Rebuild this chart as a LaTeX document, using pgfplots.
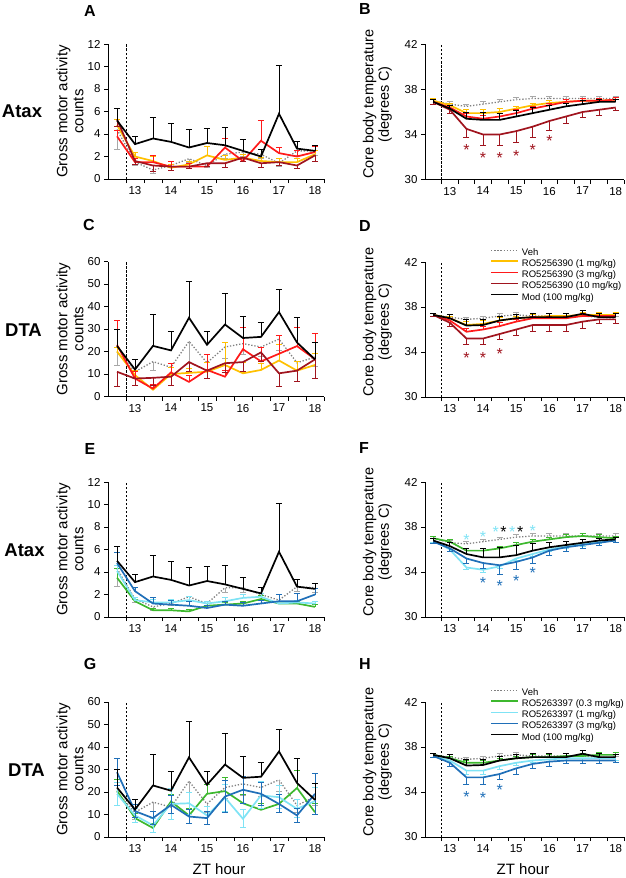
\documentclass[border=0pt]{standalone}
\usepackage{pgfplots}
\usepackage{pgfplotstable}
\pgfplotsset{compat=1.18}
\usepackage{fontspec}
\setmainfont{Liberation Sans}

\definecolor{cveh}{HTML}{808080}
\definecolor{cvehbar}{HTML}{A8A8A8}
\definecolor{cyel}{HTML}{FFC000}
\definecolor{cred}{HTML}{FF1A1A}
\definecolor{cdred}{HTML}{A0141E}
\definecolor{cgrn}{HTML}{3DB82E}
\definecolor{ccyan}{HTML}{7FE3F5}
\definecolor{cblue}{HTML}{1F6FB8}

% Panel A: Atax, RO5256390, activity
\pgfplotstableread{
x    veh vehe ya  yae yb  ybe yc  yce mod mode
12.5 4.4 1.8  4.8 0.5 3.8 0.5 5.3 0.6 5.2 1.1
13   1.5 0.3  2.0 0.4 1.5 0.3 1.6 0.3 3.1 0.7
13.5 0.8 0.3  1.6 0.4 1.5 0.6 1.2 0.5 3.6 1.9
14   1.2 0.2  1.0 0.3 1.1 0.5 1.1 0.3 3.3 1.6
14.5 1.8 0.3  1.3 0.3 1.1 0.3 1.1 0.2 2.8 1.6
15   1.2 0.2  2.1 0.8 1.1 0.3 1.4 0.3 3.2 1.3
15.5 2.2 0.4  1.7 0.4 2.8 0.8 1.4 0.4 3.0 1.6
16   2.4 0.4  1.9 0.3 1.6 0.3 1.9 0.3 2.5 1.0
16.5 2.2 0.4  1.6 0.3 3.4 1.8 1.4 0.4 2.0 0.6
17   1.4 0.3  1.5 0.3 2.3 0.5 1.5 0.3 5.8 4.3
17.5 2.5 0.4  1.5 0.3 2.0 0.5 1.2 0.3 2.7 0.6
18   2.5 0.4  2.2 0.3 2.4 0.5 2.1 0.5 2.5 0.5
}\tA
% Panel B: Atax, RO5256390, temperature
\pgfplotstableread{
x    veh  vehe ya   yae yb   ybe yc   yce mod  mode
12.5 37.0 0.2  37.0 0.2 36.9 0.2 36.9 0.2 36.9 0.2
13   36.7 0.2  36.6 0.2 36.4 0.2 36.2 0.3 36.3 0.3
13.5 36.5 0.2  35.9 0.3 35.6 0.3 34.5 0.8 35.4 0.6
14   36.7 0.2  35.9 0.3 35.4 0.3 34.0 1.0 35.3 0.7
14.5 36.9 0.2  36.0 0.3 35.6 0.3 34.0 1.0 35.3 0.6
15   37.1 0.2  36.3 0.2 35.9 0.3 34.3 1.0 35.6 0.5
15.5 37.2 0.2  36.6 0.2 36.3 0.2 34.7 1.0 35.9 0.5
16   37.2 0.2  36.8 0.2 36.6 0.2 35.2 0.8 36.2 0.4
16.5 37.2 0.2  36.9 0.2 36.9 0.2 35.6 0.6 36.5 0.3
17   37.2 0.2  37.0 0.2 37.0 0.2 36.0 0.5 36.7 0.3
17.5 37.2 0.2  37.0 0.2 37.0 0.2 36.2 0.5 36.9 0.2
18   37.2 0.2  37.1 0.2 37.1 0.2 36.4 0.3 36.9 0.2
}\tB
% Panel C: DTA, RO5256390, activity
\pgfplotstableread{
x    veh  vehe ya   yae yb   ybe  yc   yce mod  mode
12.5 20   6    20   2   23   11   11   6.5 22.5 7.5
13   11   3    9.5  2   8    3    8    3   12   4.5
13.5 15.5 4    3    1   3.5  2    8.3  3.5 22.5 14
14   13   3    10   3   10.7 4    8.8  4   20.5 8.5
14.5 24.5 12   10.5 2   6.5  3    15.3 4   35   16
15   15   4    11   4   11.8 7    11.5 3.5 23   6
15.5 22   5    14   10  8.8  3    14.8 4   32   14
16   23.5 5    10.3 5   21   9.5  15.3 4   26   9.5
16.5 22   4    11.8 3   15.6 6    19.6 4   26.5 6.5
17   25.5 5    16   7   19   8    10.3 6   37.5 10
17.5 15   3    11.5 4   22.4 8.5  11.5 5   24   11
18   17.5 4    14   5   16.6 11.5 16.5 8.5 16.5 7.5
}\tC
% Panel D: DTA, RO5256390, temperature
\pgfplotstableread{
x    veh  vehe ya   yae yb   ybe yc   yce mod   mode
12.5 37.3 0.1  37.3 0.1 37.3 0.1 37.3 0.1 37.3  0.1
13   37.1 0.2  37.0 0.2 36.8 0.2 36.6 0.3 37.0  0.3
13.5 36.9 0.2  36.4 0.3 35.8 0.3 35.2 0.5 36.35 0.5
14   37.0 0.2  36.5 0.3 36.0 0.3 35.2 0.5 36.4  0.5
14.5 37.2 0.2  36.8 0.3 36.3 0.3 35.6 0.5 36.8  0.4
15   37.3 0.2  37.0 0.2 36.7 0.2 36.0 0.5 37.0  0.3
15.5 37.2 0.2  37.1 0.2 37.0 0.2 36.4 0.6 37.1  0.3
16   37.2 0.2  37.2 0.2 37.0 0.2 36.4 0.6 37.1  0.3
16.5 37.2 0.2  37.2 0.2 37.0 0.2 36.4 0.6 37.1  0.3
17   37.2 0.2  37.3 0.2 37.2 0.2 36.7 0.6 37.4  0.3
17.5 37.1 0.2  37.3 0.2 37.2 0.2 36.9 0.4 37.1  0.3
18   37.0 0.2  37.3 0.2 37.2 0.2 36.9 0.4 37.1  0.3
}\tD
% Panel E: Atax, RO5263397, activity
\pgfplotstableread{
x    veh vehe ya  yae yb  ybe yc  yce mod mode
12.5 4.3 1.6  3.5 0.8 4.1 0.5 4.8 0.9 5.0 1.3
13   1.6 0.3  1.4 0.2 1.5 0.2 2.3 0.3 3.1 0.7
13.5 0.9 0.3  0.6 0.2 1.3 0.3 1.2 0.5 3.6 1.9
14   1.2 0.2  0.6 0.2 1.3 0.3 1.1 0.4 3.3 1.6
14.5 1.8 0.3  0.5 0.2 1.5 0.3 1.0 0.4 2.8 1.6
15   1.2 0.2  1.0 0.2 1.2 0.2 0.8 0.2 3.2 1.3
15.5 2.6 0.4  1.1 0.2 1.4 0.3 1.1 0.3 2.9 1.7
16   2.6 0.4  1.2 0.2 1.7 0.3 1.0 0.3 2.5 1.0
16.5 2.0 0.4  1.6 0.3 1.8 0.3 1.2 0.3 2.1 0.5
17   1.5 0.3  1.2 0.2 1.2 0.2 1.4 0.6 5.8 4.3
17.5 2.7 0.4  1.2 0.2 1.3 0.2 1.4 0.7 2.7 0.6
18   2.6 0.4  0.9 0.2 1.2 0.2 2.0 0.5 2.5 0.5
}\tE
% Panel F: Atax, RO5263397, temperature
\pgfplotstableread{
x    veh  vehe ya   yae yb   ybe yc   yce mod  mode
12.5 37.0 0.2  37.0 0.2 36.8 0.2 36.7 0.2 36.8 0.2
13   36.6 0.2  36.7 0.2 36.0 0.2 36.1 0.3 36.3 0.3
13.5 36.5 0.2  35.9 0.2 34.4 0.2 35.2 0.4 35.6 0.5
14   36.7 0.2  35.9 0.2 34.2 0.2 34.8 0.5 35.3 0.8
14.5 36.9 0.2  36.1 0.2 34.5 0.2 34.6 0.8 35.3 0.9
15   37.1 0.2  36.4 0.2 35.2 0.2 34.9 0.7 35.5 0.9
15.5 37.2 0.2  36.7 0.2 35.6 0.2 35.3 0.5 35.9 0.6
16   37.2 0.2  36.9 0.2 36.0 0.2 35.9 0.4 36.2 0.4
16.5 37.2 0.2  37.1 0.2 36.3 0.2 36.2 0.4 36.4 0.3
17   37.2 0.2  37.2 0.2 36.5 0.2 36.4 0.3 36.6 0.3
17.5 37.2 0.2  37.1 0.2 36.7 0.2 36.6 0.2 36.8 0.2
18   37.2 0.2  37.0 0.2 36.8 0.2 36.8 0.2 36.9 0.2
}\tF
% Panel G: DTA, RO5263397, activity
\pgfplotstableread{
x    veh  vehe ya   yae yb   ybe yc   yce mod  mode
12.5 20   6    20.6 5   19.2 5   28.8 6   22   8
13   11   3    8.4  2   9.6  3   11.5 3   12.2 4.5
13.5 15.5 4    4    2   5.2  3   8.4  3   22.9 14
14   13.3 3    15.8 3   14.7 7   14.3 4   20.6 8.5
14.5 24.8 12   9.6  3   15.0 5   9.1  3   35.4 16
15   14.7 4    19.2 4   9.6  4   8.4  3   23.2 6
15.5 22   5    20.4 6   17.5 6   18   7   32.2 14
16   23.6 5    15   4   8.1  4   21   6   26.3 9.5
16.5 22   4    12.1 3   18.5 6   19.2 5   26.8 6.5
17   25.4 5    14.7 4   17.7 5   14.7 4   38   10
17.5 14   3    21.8 8   12.5 4   9.6  3   24   11
18   18   4    11   4   16   6   19.2 9   16.5 7.5
}\tG
% Panel H: DTA, RO5263397, temperature
\pgfplotstableread{
x    veh  vehe ya   yae yb   ybe yc   yce mod   mode
12.5 37.3 0.1  37.3 0.1 37.2 0.1 37.2 0.1 37.3  0.1
13   37.1 0.2  37.0 0.2 36.8 0.2 36.6 0.3 37.0  0.3
13.5 36.9 0.2  36.6 0.2 35.9 0.3 35.3 0.6 36.35 0.5
14   37.0 0.2  36.6 0.2 35.9 0.3 35.3 0.6 36.4  0.5
14.5 37.2 0.2  36.8 0.2 36.3 0.3 35.6 0.5 36.8  0.4
15   37.3 0.2  37.0 0.2 36.6 0.2 36.1 0.5 37.0  0.3
15.5 37.2 0.2  37.1 0.2 36.8 0.2 36.5 0.4 37.1  0.3
16   37.2 0.2  37.1 0.2 36.9 0.2 36.7 0.4 37.1  0.3
16.5 37.2 0.2  37.2 0.2 37.0 0.2 36.8 0.3 37.1  0.3
17   37.2 0.2  37.2 0.2 37.0 0.2 36.8 0.3 37.4  0.3
17.5 37.1 0.2  37.3 0.2 37.0 0.2 36.8 0.3 37.1  0.3
18   37.0 0.2  37.3 0.2 37.0 0.2 36.8 0.2 37.1  0.2
}\tH

\pgfplotsset{
  panel/.style={scale only axis, axis lines*=left, enlargelimits=false, clip=false,
    xmin=12.25, xmax=18.25, height=135pt,
    xtick={13,14,15,16,17,18},
    every major x tick/.append style={draw=none},
    minor xtick={12.75,13.25,...,18.25}, minor tick length=4pt,
    tick align=outside, major tick length=4pt,
    tick style={black, line width=0.8pt},
    axis line style={black, line width=0.8pt},
    ticklabel style={font=\fontsize{11.5}{12}\selectfont},
    /pgf/number format/assume math mode=true,
    ylabel style={align=center, anchor=center}},
  actpanel/.style={panel, width=216pt, ymin=0,
    ylabel={Gross motor activity\\counts},
    ylabel style={at={(axis description cs:-0.176,0.5)}, font=\fontsize{15}{16}\selectfont}},
  tmppanel/.style={panel, width=199pt, ymin=30, ymax=42, ytick={30,34,38,42},
    ylabel={Core body temperature\\(degrees C)},
    ylabel style={at={(axis description cs:-0.239,0.556)}, font=\fontsize{14.5}{15.5}\selectfont}},
  ser/.style n args={3}{color=#1, line width=1.7pt, mark=none, forget plot,
    error bars/y dir=#2, error bars/y explicit,
    error bars/error bar style={line width=0.9pt, solid, color=#3},
    error bars/error mark options={rotate=90, mark size=3pt, line width=0.9pt, solid, color=#3}},
  vehs/.style={dash pattern=on 1.3pt off 1.8pt, line width=1.3pt},
  zt/.style={black, line width=0.8pt, dash pattern=on 2.5pt off 1.5pt, forget plot},
  stars/.style={only marks, mark=text, text mark={*}, text mark as node=true, forget plot,
    text mark style={font=\fontsize{16}{16}\selectfont, text=#1, inner sep=0pt, anchor=center, yshift=-3.5pt}},
  leg/.style={legend style={at={(axis description cs:0.327,1.104)}, anchor=north west,
      draw=none, fill=none, inner sep=0pt, font=\fontsize{9.5}{10}\selectfont,
      row sep=1.1pt, column sep=2.5pt,
      nodes={inner sep=0.5pt, text height=7pt, text depth=2pt}},
    legend cell align=left},
  limg/.style={legend image code/.code={\draw[#1] (0pt,3pt) -- (27pt,3pt);}},
}

\begin{document}
\begin{tikzpicture}
\path[use as bounding box] (0pt,0pt) rectangle (625pt,-878pt);

% ---------- A ----------
\begin{axis}[actpanel, at={(108pt,-179pt)}, anchor=south west, ymax=12, ytick={0,2,...,12}]
\addplot[zt] coordinates {(12.75,0) (12.75,12)};
\addplot[ser={cveh}{minus}{cvehbar}, vehs] table[x=x, y=veh, y error=vehe] {\tA};
\addplot[ser={cyel}{plus}{cyel}] table[x=x, y=ya, y error=yae] {\tA};
\addplot[ser={cred}{plus}{cred}] table[x=x, y=yb, y error=ybe] {\tA};
\addplot[ser={cdred}{minus}{cdred}] table[x=x, y=yc, y error=yce] {\tA};
\addplot[ser={black}{plus}{black}] table[x=x, y=mod, y error=mode] {\tA};
\end{axis}

% ---------- B ----------
\begin{axis}[tmppanel, at={(425pt,-179.5pt)}, anchor=south west]
\addplot[zt] coordinates {(12.75,30) (12.75,42)};
\addplot[ser={cveh}{plus}{cvehbar}, vehs] table[x=x, y=veh, y error=vehe] {\tB};
\addplot[ser={cyel}{plus}{cyel}] table[x=x, y=ya, y error=yae] {\tB};
\addplot[ser={cred}{plus}{cred}] table[x=x, y=yb, y error=ybe] {\tB};
\addplot[ser={cdred}{minus}{cdred}] table[x=x, y=yc, y error=yce] {\tB};
\addplot[ser={black}{plus}{black}] table[x=x, y=mod, y error=mode] {\tB};
\addplot[stars=cdred] coordinates {(13.5,32.9) (14,32.2) (14.5,32.2) (15,32.4) (15.5,32.9) (16,33.7)};
\end{axis}

% ---------- C ----------
\begin{axis}[actpanel, at={(108pt,-396.5pt)}, anchor=south west, ymax=60, ytick={0,10,...,60}]
\addplot[zt] coordinates {(12.75,0) (12.75,60)};
\addplot[ser={cveh}{minus}{cvehbar}, vehs] table[x=x, y=veh, y error=vehe] {\tC};
\addplot[ser={cyel}{plus}{cyel}] table[x=x, y=ya, y error=yae] {\tC};
\addplot[ser={cred}{plus}{cred}] table[x=x, y=yb, y error=ybe] {\tC};
\addplot[ser={cdred}{minus}{cdred}] table[x=x, y=yc, y error=yce] {\tC};
\addplot[ser={black}{plus}{black}] table[x=x, y=mod, y error=mode] {\tC};
\end{axis}

% ---------- D ----------
\begin{axis}[tmppanel, leg, at={(425pt,-397pt)}, anchor=south west]
\addplot[zt] coordinates {(12.75,30) (12.75,42)};
\addplot[ser={cveh}{plus}{cvehbar}, vehs] table[x=x, y=veh, y error=vehe] {\tD};
\addplot[ser={cyel}{plus}{cyel}] table[x=x, y=ya, y error=yae] {\tD};
\addplot[ser={cred}{plus}{cred}] table[x=x, y=yb, y error=ybe] {\tD};
\addplot[ser={cdred}{minus}{cdred}] table[x=x, y=yc, y error=yce] {\tD};
\addplot[ser={black}{plus}{black}] table[x=x, y=mod, y error=mode] {\tD};
\addplot[stars=cdred] coordinates {(13.5,33.8) (14,33.8) (14.5,34.1)};
\addlegendimage{limg={color={rgb,255:red,128;green,128;blue,128}, line width=1.3pt, dash pattern=on 1.3pt off 1.8pt}}
\addlegendentry{Veh}
\addlegendimage{limg={color={rgb,255:red,255;green,192;blue,0}, line width=1.7pt}}
\addlegendentry{RO5256390 (1 mg/kg)}
\addlegendimage{limg={color={rgb,255:red,255;green,26;blue,26}, line width=1.7pt}}
\addlegendentry{RO5256390 (3 mg/kg)}
\addlegendimage{limg={color={rgb,255:red,160;green,20;blue,30}, line width=1.7pt}}
\addlegendentry{RO5256390 (10 mg/kg)}
\addlegendimage{limg={color={rgb,255:red,0;green,0;blue,0}, line width=1.7pt}}
\addlegendentry{Mod (100 mg/kg)}
\end{axis}

% ---------- E ----------
\begin{axis}[actpanel, at={(108pt,-617pt)}, anchor=south west, ymax=12, ytick={0,2,...,12}]
\addplot[zt] coordinates {(12.75,0) (12.75,12)};
\addplot[ser={cveh}{minus}{cvehbar}, vehs] table[x=x, y=veh, y error=vehe] {\tE};
\addplot[ser={cgrn}{plus}{cgrn}] table[x=x, y=ya, y error=yae] {\tE};
\addplot[ser={ccyan}{plus}{ccyan}] table[x=x, y=yb, y error=ybe] {\tE};
\addplot[ser={cblue}{plus}{cblue}] table[x=x, y=yc, y error=yce] {\tE};
\addplot[ser={black}{plus}{black}] table[x=x, y=mod, y error=mode] {\tE};
\end{axis}

% ---------- F ----------
\begin{axis}[tmppanel, at={(425pt,-617pt)}, anchor=south west]
\addplot[zt] coordinates {(12.75,30) (12.75,42)};
\addplot[ser={cveh}{plus}{cvehbar}, vehs] table[x=x, y=veh, y error=vehe] {\tF};
\addplot[ser={cgrn}{plus}{cgrn}] table[x=x, y=ya, y error=yae] {\tF};
\addplot[ser={ccyan}{minus}{ccyan}] table[x=x, y=yb, y error=ybe] {\tF};
\addplot[ser={cblue}{minus}{cblue}] table[x=x, y=yc, y error=yce] {\tF};
\addplot[ser={black}{plus}{black}] table[x=x, y=mod, y error=mode] {\tF};
\addplot[stars=ccyan] coordinates {(13.5,37.2) (14,37.4) (14.38,37.85) (14.88,37.85) (15.5,38.0)};
\addplot[stars=black] coordinates {(14.62,37.85) (15.12,37.85)};
\addplot[stars=cblue] coordinates {(14,33.3) (14.5,33.05) (15,33.5) (15.5,34.2)};
\end{axis}

% ---------- G ----------
\begin{axis}[actpanel, at={(108pt,-837pt)}, anchor=south west, ymax=60, ytick={0,10,...,60}]
\addplot[zt] coordinates {(12.75,0) (12.75,60)};
\addplot[ser={cveh}{minus}{cvehbar}, vehs] table[x=x, y=veh, y error=vehe] {\tG};
\addplot[ser={cgrn}{plus}{cgrn}] table[x=x, y=ya, y error=yae] {\tG};
\addplot[ser={ccyan}{both}{ccyan}] table[x=x, y=yb, y error=ybe] {\tG};
\addplot[ser={cblue}{both}{cblue}] table[x=x, y=yc, y error=yce] {\tG};
\addplot[ser={black}{plus}{black}] table[x=x, y=mod, y error=mode] {\tG};
\end{axis}

% ---------- H ----------
\begin{axis}[tmppanel, leg, at={(425pt,-837pt)}, anchor=south west]
\addplot[zt] coordinates {(12.75,30) (12.75,42)};
\addplot[ser={cveh}{plus}{cvehbar}, vehs] table[x=x, y=veh, y error=vehe] {\tH};
\addplot[ser={cgrn}{plus}{cgrn}] table[x=x, y=ya, y error=yae] {\tH};
\addplot[ser={ccyan}{minus}{ccyan}] table[x=x, y=yb, y error=ybe] {\tH};
\addplot[ser={cblue}{minus}{cblue}] table[x=x, y=yc, y error=yce] {\tH};
\addplot[ser={black}{plus}{black}] table[x=x, y=mod, y error=mode] {\tH};
\addplot[stars=cblue] coordinates {(13.5,33.9) (14,33.8) (14.5,34.5)};
\addlegendimage{limg={color={rgb,255:red,128;green,128;blue,128}, line width=1.3pt, dash pattern=on 1.3pt off 1.8pt}}
\addlegendentry{Veh}
\addlegendimage{limg={color={rgb,255:red,61;green,184;blue,46}, line width=1.7pt}}
\addlegendentry{RO5263397 (0.3 mg/kg)}
\addlegendimage{limg={color={rgb,255:red,127;green,227;blue,245}, line width=1.7pt}}
\addlegendentry{RO5263397 (1 mg/kg)}
\addlegendimage{limg={color={rgb,255:red,31;green,111;blue,184}, line width=1.7pt}}
\addlegendentry{RO5263397 (3 mg/kg)}
\addlegendimage{limg={color={rgb,255:red,0;green,0;blue,0}, line width=1.7pt}}
\addlegendentry{Mod (100 mg/kg)}
\end{axis}

% ---------- panel letters, row labels, x labels ----------
\begin{scope}[every node/.style={inner sep=0pt}]
\node[font=\fontsize{16}{16}\selectfont\bfseries] at (90pt,-10.5pt) {A};
\node[font=\fontsize{16}{16}\selectfont\bfseries] at (365pt,-9pt) {B};
\node[font=\fontsize{16}{16}\selectfont\bfseries] at (89pt,-225pt) {C};
\node[font=\fontsize{16}{16}\selectfont\bfseries] at (365pt,-226pt) {D};
\node[font=\fontsize{16}{16}\selectfont\bfseries] at (90pt,-448.5pt) {E};
\node[font=\fontsize{16}{16}\selectfont\bfseries] at (364pt,-447.5pt) {F};
\node[font=\fontsize{16}{16}\selectfont\bfseries] at (90pt,-664pt) {G};
\node[font=\fontsize{16}{16}\selectfont\bfseries] at (365pt,-664pt) {H};
\node[font=\fontsize{18.5}{20}\selectfont\bfseries] at (22pt,-111pt) {Atax};
\node[font=\fontsize{18.5}{20}\selectfont\bfseries] at (23.5pt,-330pt) {DTA};
\node[font=\fontsize{18.5}{20}\selectfont\bfseries] at (24.5pt,-550pt) {Atax};
\node[font=\fontsize{18.5}{20}\selectfont\bfseries] at (26.5pt,-770pt) {DTA};
\node[font=\fontsize{15}{16}\selectfont] at (219pt,-869pt) {ZT hour};
\node[font=\fontsize{15}{16}\selectfont] at (523pt,-869pt) {ZT hour};
\end{scope}
\end{tikzpicture}
\end{document}
